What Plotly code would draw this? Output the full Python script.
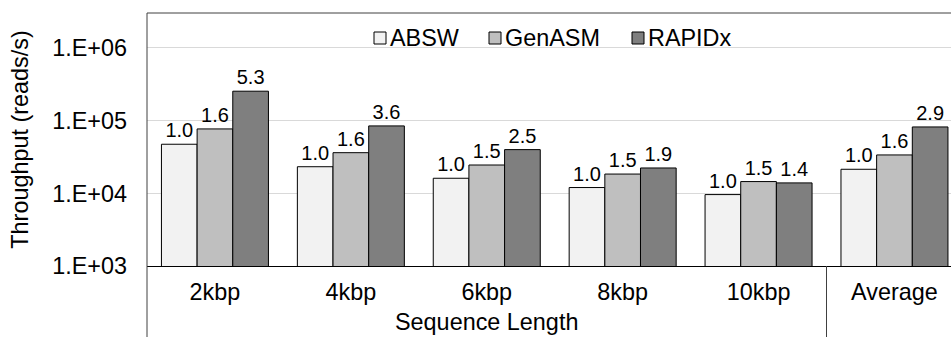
import plotly.graph_objects as go

# Throughput (reads/s) per sequence length, plus the overall average
categories = ["2kbp", "4kbp", "6kbp", "8kbp", "10kbp", "Average"]
absw = [47300, 23200, 16100, 12000, 9600, 21400]
genasm = [76800, 36200, 24500, 18400, 14500, 33700]
rapidx = [253700, 84500, 39900, 22300, 13900, 81800]

# Speedup over ABSW printed above each bar
absw_speedup = [1.0, 1.0, 1.0, 1.0, 1.0, 1.0]
genasm_speedup = [1.6, 1.6, 1.5, 1.5, 1.5, 1.6]
rapidx_speedup = [5.3, 3.6, 2.5, 1.9, 1.4, 2.9]

series_names = ["ABSW", "GenASM", "RAPIDx"]
tick_vals = [1e3, 1e4, 1e5, 1e6]
tick_text = ["1.E+03", "1.E+04", "1.E+05", "1.E+06"]
group_title = "Sequence Length"
y_title = "Throughput (reads/s)"

colors = ["#F2F2F2", "#BFBFBF", "#7F7F7F"]
FONT = "Liberation Sans, Arial, sans-serif"
FS = 23.4

W, H = 951, 337
ML, MR, MT, MB = 147, 0, 13, 71
plot_w = W - ML - MR
plot_h = H - MT - MB
x_range = [-0.5, 5.416]


def px_x(px):
    return (px - ML) / plot_w


def px_y(py):
    return (H - MB - py) / plot_h


def data_x_to_paper(x):
    return (x - x_range[0]) / (x_range[1] - x_range[0])


fig = go.Figure()
for name, vals, sp, col in zip(series_names, [absw, genasm, rapidx],
                               [absw_speedup, genasm_speedup, rapidx_speedup], colors):
    fig.add_trace(go.Bar(
        x=categories, y=vals, name=name,
        marker=dict(color=col, line=dict(color="#000000", width=1)),
        text=[f"{v:.1f}" for v in sp],
        textposition="outside",
        textfont=dict(family=FONT, size=20, color="#000000"),
        cliponaxis=False,
        showlegend=False,
    ))

# frame: top edge and left edge running down through the category labels
fig.add_shape(type="line", xref="paper", yref="paper", x0=0, x1=1.02, y0=1, y1=1,
              line=dict(color="#404040", width=1))
fig.add_shape(type="line", xref="paper", yref="paper", x0=0, x1=0, y0=1, y1=px_y(H + 2),
              line=dict(color="#404040", width=1))
# divider between the length groups and the average
sep = data_x_to_paper(4.5)
fig.add_shape(type="line", xref="paper", yref="paper", x0=sep, x1=sep, y0=0, y1=px_y(H + 2),
              line=dict(color="#404040", width=1))

# group label under the five length categories
fig.add_annotation(x=2, xref="x", y=px_y(322), yref="paper", text=group_title,
                   showarrow=False, xanchor="center", yanchor="middle",
                   font=dict(family=FONT, size=FS, color="#000000"))

# legend drawn as swatches + labels across the top
legend_sq = [374, 489, 632]
legend_tx = [388, 503, 646]
leg_y = 38
for name, col, sx, tx in zip(series_names, colors, legend_sq, legend_tx):
    fig.add_shape(type="rect", xref="paper", yref="paper",
                  x0=px_x(sx), x1=px_x(sx + 12), y0=px_y(leg_y - 6), y1=px_y(leg_y + 6),
                  fillcolor=col, line=dict(color="#000000", width=1))
    fig.add_annotation(x=px_x(tx), y=px_y(leg_y), xref="paper", yref="paper", text=name,
                       showarrow=False, xanchor="left", yanchor="middle",
                       font=dict(family=FONT, size=FS, color="#000000"))

fig.update_layout(
    width=W, height=H,
    margin=dict(l=ML, r=MR, t=MT, b=MB, pad=0),
    paper_bgcolor="#FFFFFF", plot_bgcolor="#FFFFFF",
    barmode="group", bargap=0.2127, bargroupgap=0,
    font=dict(family=FONT, size=FS, color="#000000"),
    showlegend=False,
)
fig.update_xaxes(
    range=x_range, showline=True, linecolor="#000000", linewidth=1,
    showgrid=False, ticks="", ticklabelstandoff=5,
    tickfont=dict(family=FONT, size=FS, color="#000000"),
)
fig.update_yaxes(
    type="log", range=[3, 6.48], tickvals=tick_vals, ticktext=tick_text,
    showgrid=True, gridcolor="#D9D9D9", gridwidth=1, showline=False,
    ticks="", ticklabelstandoff=19,
    tickfont=dict(family=FONT, size=FS, color="#000000"),
    title=dict(text=y_title, font=dict(family=FONT, size=FS, color="#000000"), standoff=17),
)

fig.write_html("out.html")
